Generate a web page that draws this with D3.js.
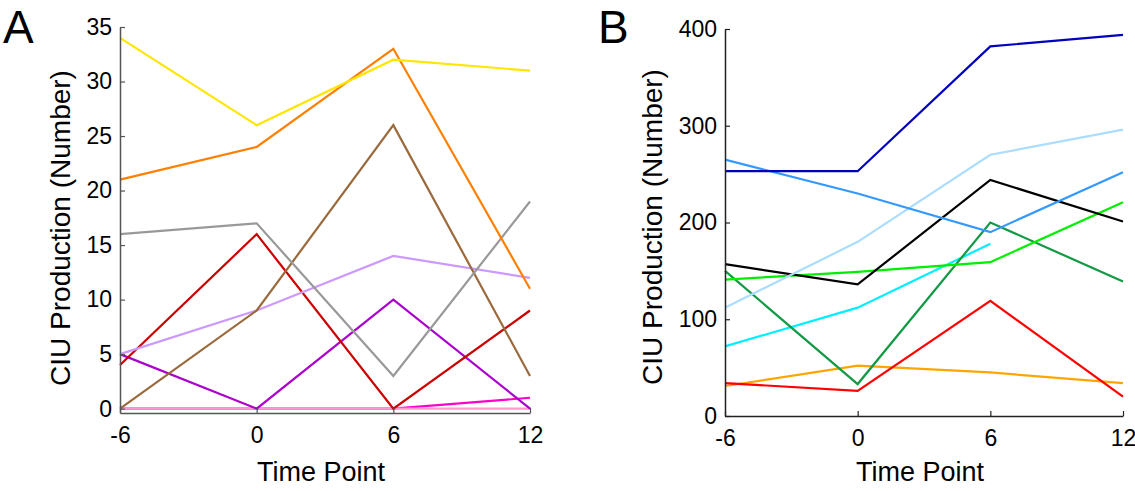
<!DOCTYPE html>
<html>
<head>
<meta charset="utf-8">
<script src="https://cdn.jsdelivr.net/npm/d3@7"></script>
<style>
  html, body { margin: 0; padding: 0; background: #fff; }
  svg { display: block; font-family: "Liberation Sans", Arial, Helvetica, sans-serif; }
</style>
</head>
<body>
<svg id="chart" width="1135" height="491"></svg>
<script>
// time points shared by both panels
const timePoints = [-6, 0, 6, 12]
const yTicksA = [0, 5, 10, 15, 20, 25, 30, 35]
const yTicksB = [0, 100, 200, 300, 400]

// panel A series (values at -6, 0, 6, 12)
const aMagenta = [0, 0, 0, 1]
const aPink = [0, 0, 0, 0]
const aPurple = [5, 0, 10, 0]
const aDarkRed = [4, 16, 0, 9]
const aLilac = [5, 9, 14, 12]
const aBrown = [0, 9, 26, 3]
const aGray = [16, 17, 3, 19]
const aOrange = [21, 24, 33, 11]
const aYellow = [34, 26, 32, 31]

// panel B series (null = no value)
const bOrange = [31, 52, 45, 34]
const bRed = [34, 26, 119, 20]
const bCyan = [72, 112, 178, null]
const bDarkGreen = [150, 33, 200, 139]
const bLime = [141, 149, 159, 221]
const bBlack = [157, 136, 244, 201]
const bLightBlue = [112, 180, 270, 296]
const bBlue = [265, 230, 190, 252]
const bNavy = [253, 253, 382, 394]

const seriesA = [aMagenta, aPink, aPurple, aDarkRed, aLilac, aBrown, aGray, aOrange, aYellow]
const colorsA = ['#ff00cc', '#ff99cc', '#aa00cc', '#cc0000', '#cc99ff', '#9b6a3c', '#999999', '#ff8000', '#ffe600']

const seriesB = [bOrange, bRed, bCyan, bDarkGreen, bLime, bBlack, bLightBlue, bBlue, bNavy]
const colorsB = ['#ffa500', '#ff0000', '#00eeff', '#119944', '#00ee00', '#000000', '#aaddff', '#3399ff', '#0000c0']

const svg = d3.select('#chart')

function panel(opts) {
    const x = d3.scaleLinear().domain([-6, 12]).range([opts.x0, opts.x1])
    const y = d3.scaleLinear().domain(opts.yDomain).range([opts.y0, opts.y1])
    const g = svg.append('g')

    const line = d3.line()
        .defined((d) => d != null)
        .x((d, i) => x(timePoints[i]))
        .y((d) => y(d))

    opts.series.forEach((s, i) => {
        g.append('path')
            .attr('d', line(s))
            .attr('fill', 'none')
            .attr('stroke', opts.colors[i])
            .attr('stroke-width', 2.2)
            .attr('stroke-linejoin', 'miter')
    })

    // axes, inward ticks like matlab, plain hyphen for negatives
    const fmt = (d) => String(d)
    const xAxis = d3.axisBottom(x).tickValues(timePoints).tickFormat(fmt).tickSize(-5).tickPadding(14).tickSizeOuter(0)
    const yAxis = d3.axisLeft(y).tickValues(opts.yTicks).tickFormat(fmt).tickSize(-5).tickPadding(8).tickSizeOuter(0)

    const gx = g.append('g').attr('transform', `translate(0,${opts.y0})`).call(xAxis)
    const gy = g.append('g').attr('transform', `translate(${opts.x0},0)`).call(yAxis)
    for (const a of [gx, gy]) {
        a.attr('font-size', null).attr('font-family', null)
        a.select('.domain').attr('stroke', opts.axisColor).attr('stroke-width', 1.5)
        a.selectAll('.tick line').attr('stroke', opts.axisColor).attr('stroke-width', 1.2)
        a.selectAll('.tick text').attr('fill', '#000').style('font-size', '23px')
    }
    gx.selectAll('.tick text').attr('dy', '0.71em')

    g.append('text')
        .attr('x', (opts.x0 + opts.x1) / 2 - 4)
        .attr('y', opts.titleY)
        .attr('text-anchor', 'middle')
        .style('font-size', '27px')
        .text('Time Point')

    g.append('text')
        .attr('transform', `translate(${opts.labelX},${opts.labelY}) rotate(-90)`)
        .attr('text-anchor', 'middle')
        .attr('dy', '0.35em')
        .style('font-size', '28px')
        .text('CIU Production (Number)')

    g.append('text')
        .attr('x', opts.letterX)
        .attr('y', 43)
        .style('font-size', '46px')
        .text(opts.letter)
}

panel({
    series: seriesA, colors: colorsA, yDomain: [-0.4, 35], yTicks: yTicksA,
    x0: 120, x1: 530, y0: 413, y1: 27, axisColor: '#555',
    labelX: 60, labelY: 228, titleY: 481, letter: 'A', letterX: 3
})

panel({
    series: seriesB, colors: colorsB, yDomain: [0, 400], yTicks: yTicksB,
    x0: 725, x1: 1123, y0: 416, y1: 29, axisColor: '#222',
    labelX: 652, labelY: 227, titleY: 481, letter: 'B', letterX: 598
})
</script>
</body>
</html>
